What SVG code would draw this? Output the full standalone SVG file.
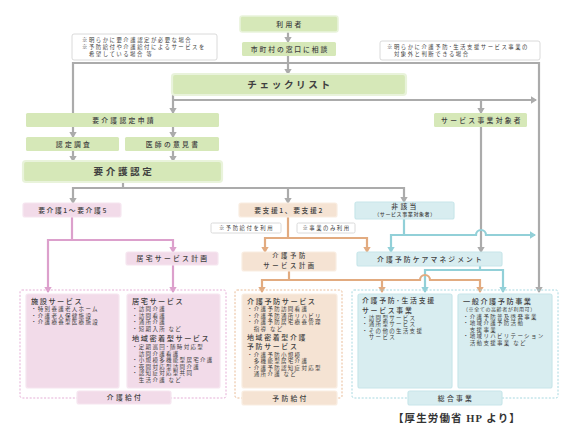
<svg xmlns="http://www.w3.org/2000/svg" width="576" height="432" viewBox="0 0 576 432">
<style>
text{font-family:"Noto Sans CJK JP","Noto Sans",sans-serif;fill:#404040}
.lbl{font-size:6.8px;letter-spacing:2.3px;text-anchor:middle;font-weight:500}
.big{font-size:9.6px;letter-spacing:2.6px;text-anchor:middle;font-weight:700}
.note{font-size:5.4px;letter-spacing:1.5px}
.ttl{font-size:7.2px;letter-spacing:1.5px;font-weight:500}
.ttl2{font-size:6.9px;letter-spacing:1.7px;font-weight:500}
.item{font-size:5.5px;letter-spacing:1.3px}
.sub{font-size:5px;letter-spacing:0.6px}
.g{fill:#d6e8b8}
.g2{fill:#d6e8b8;stroke:#e9f3db;stroke-width:1.6}
.p{fill:#f2dbe9;stroke:#f6e6f0;stroke-width:1.2}
.o{fill:#f5e3d3;stroke:#f9ede2;stroke-width:1.2}
.b{fill:#d8edf0;stroke:#c8e6ea;stroke-width:1.2}
.nb{fill:#fff;stroke:#d0d0d0;stroke-width:0.8}
.ln{fill:none;stroke-width:2.2}
.lg{stroke:#ababab}.lp{stroke:#dca0cc}.lo{stroke:#e2ab80}.lb{stroke:#92d0d8}
.dash{fill:none;stroke-width:0.9;stroke-dasharray:2 1.6}
</style>
<defs>
<marker id="ag" markerWidth="8" markerHeight="8" refX="5" refY="4" orient="auto" markerUnits="userSpaceOnUse"><path d="M0,0.3 L6,4 L0,7.7 z" fill="#ababab"/></marker>
<marker id="ap" markerWidth="8" markerHeight="8" refX="5" refY="4" orient="auto" markerUnits="userSpaceOnUse"><path d="M0,0.3 L6,4 L0,7.7 z" fill="#dca0cc"/></marker>
<marker id="ao" markerWidth="8" markerHeight="8" refX="5" refY="4" orient="auto" markerUnits="userSpaceOnUse"><path d="M0,0.3 L6,4 L0,7.7 z" fill="#e2ab80"/></marker>
<marker id="ab" markerWidth="8" markerHeight="8" refX="5" refY="4" orient="auto" markerUnits="userSpaceOnUse"><path d="M0,0.3 L6,4 L0,7.7 z" fill="#92d0d8"/></marker>
</defs>

<g id="connectors">
<path class="ln lg" d="M288,32 V42" marker-end="url(#ag)"/>
<path class="ln lg" d="M288,56 V74" marker-end="url(#ag)"/>
<path class="ln lg" d="M73,113 V63 H539 V292" marker-end="url(#ag)"/>
<path class="ln lg" d="M173,95 V113" marker-end="url(#ag)"/>
<path class="ln lg" d="M173,100 H536" marker-end="url(#ag)"/>
<path class="ln lg" d="M481,100 V113" marker-end="url(#ag)"/>
<path class="ln lg" d="M481,127 V252" marker-end="url(#ag)"/>
<path class="ln lg" d="M73,127 V137" marker-end="url(#ag)"/>
<path class="ln lg" d="M173,127 V137" marker-end="url(#ag)"/>
<path class="ln lg" d="M73,151 V161" marker-end="url(#ag)"/>
<path class="ln lg" d="M173,151 V161" marker-end="url(#ag)"/>
<path class="ln lg" d="M123,182 V188 H73 V203" marker-end="url(#ag)"/>
<path class="ln lg" d="M123,188 H288 V203" marker-end="url(#ag)"/>
<path class="ln lg" d="M288,188 H404 V202" marker-end="url(#ag)"/>
<path class="ln lp" d="M72,217 V240 H48 V292" marker-end="url(#ap)"/>
<path class="ln lp" d="M72,240 H173 V252" marker-end="url(#ap)"/>
<path class="ln lp" d="M173,265 V292" marker-end="url(#ap)"/>
<path class="ln lo" d="M288,217 V238 H265 V252" marker-end="url(#ao)"/>
<path class="ln lo" d="M288,238 H367 V252" marker-end="url(#ao)"/>
<path class="ln lb" d="M404,219 V235 H391 V252" marker-end="url(#ab)"/>
<path class="ln lb" d="M404,235 H476 a5,5 0 0 1 10,0 H535" marker-end="url(#ab)"/>
<path class="ln lb" d="M480,266 V270 H425 V292" marker-end="url(#ab)"/>
<path class="ln lb" d="M480,270 H503 V292" marker-end="url(#ab)"/>
<path class="ln lo" d="M289,271 V280 H262 V292" marker-end="url(#ao)"/>
<path class="ln lo" d="M289,280 H382 V292" marker-end="url(#ao)"/>
<path class="ln lo" d="M382,280 H420 a5,5 0 0 1 10,0 H480 V292" marker-end="url(#ao)"/>
</g>

<g id="note-left"><rect class="nb" x="72" y="34" width="145" height="26" rx="2"/>
<text class="note" x="82" y="42">※明らかに要介護認定が必要な場合</text>
<text class="note" x="82" y="49">※予防給付や介護給付によるサービスを</text>
<text class="note" x="82" y="56">　希望している場合 等</text></g>
<g id="note-right"><rect class="nb" x="380" y="41" width="160" height="19" rx="2"/>
<text class="note" x="387" y="49">※明らかに介護予防･生活支援サービス事業の</text>
<text class="note" x="387" y="55.5">　対象外と判断できる場合</text></g>

<g id="riyousha"><rect class="g2" x="240" y="16" width="98" height="16" rx="2.5"/><text class="lbl" x="290" y="26.5">利用者</text></g>
<g id="madoguchi"><rect class="g" x="242" y="42" width="94" height="14" rx="1.5"/><text class="lbl" x="290" y="51.5" style="letter-spacing:1.9px">市町村の窓口に相談</text></g>
<g id="checklist"><rect class="g2" x="172" y="74" width="234" height="21" rx="3" style="stroke-width:2.2"/><text class="big" x="290" y="88">チェックリスト</text></g>

<g id="shinsei"><rect class="g" x="26" y="113" width="193" height="14" rx="1.5"/><text class="lbl" x="124" y="122.5">要介護認定申請</text></g>
<g id="chousa"><rect class="g" x="26" y="137" width="93" height="14" rx="1.5"/><text class="lbl" x="74" y="146.5">認定調査</text></g>
<g id="ishi"><rect class="g" x="125" y="137" width="94" height="14" rx="1.5"/><text class="lbl" x="173" y="146.5">医師の意見書</text></g>
<g id="nintei"><rect class="g2" x="23" y="161" width="199" height="21" rx="3" style="stroke-width:2.2"/><text class="big" x="124" y="175">要介護認定</text></g>
<g id="jigyou-taishousha"><rect class="g" x="434" y="113" width="93" height="14" rx="1.5"/><text class="lbl" x="482" y="122.5">サービス事業対象者</text></g>

<g id="youkaigo"><rect class="p" x="23" y="203" width="98" height="14" rx="2"/><text class="lbl" x="73" y="212.5" style="letter-spacing:1.6px">要介護1～要介護5</text></g>
<g id="youshien"><rect class="o" x="239" y="203" width="98" height="14" rx="2"/><text class="lbl" x="289" y="212.5" style="letter-spacing:1.6px">要支援1、要支援2</text></g>
<g id="higaitou"><rect class="b" x="355" y="202" width="99" height="17" rx="2"/><text class="lbl" x="405" y="208.8">非該当<tspan class="sub" x="405" y="216" style="letter-spacing:0.6px">（サービス事業対象者）</tspan></text></g>
<g id="note-yobou"><rect class="nb" x="211" y="223" width="70" height="10" rx="1.5"/><text class="note" x="246.5" y="230.2" text-anchor="middle">※予防給付を利用</text></g>
<g id="note-jigyou"><rect class="nb" x="297" y="223" width="58" height="10" rx="1.5"/><text class="note" x="326.5" y="230.2" text-anchor="middle">※事業のみ利用</text></g>

<g id="kyotaku-keikaku"><rect class="p" x="126" y="252" width="92" height="13" rx="2"/><text class="lbl" x="173" y="261">居宅サービス計画</text></g>
<g id="yobou-keikaku"><rect class="o" x="242" y="252" width="94" height="19" rx="2"/><text class="lbl" x="290" y="258.4" style="font-size:6.3px;letter-spacing:2.6px">介護予防<tspan x="290" y="267.6">サービス計画</tspan></text></g>
<g id="caremanagement"><rect class="b" x="357" y="252" width="145" height="14" rx="2"/><text class="lbl" x="430.5" y="261.5" style="letter-spacing:2.1px">介護予防ケアマネジメント</text></g>

<g id="kaigo-kyufu">
<rect class="dash" x="20" y="290" width="206" height="108" rx="2" style="stroke:#e2a6d1"/>
<rect class="p" x="26" y="294" width="93" height="94" rx="2"/>
<rect class="p" x="127" y="294" width="93" height="94" rx="2"/>
<rect class="p" x="77" y="391" width="94" height="13" rx="2"/>
<text class="lbl" x="125" y="400.3">介護給付</text>
<text class="ttl" x="31" y="303.5">施設サービス</text>
<text class="item" x="31" y="311">・特別養護老人ホーム</text>
<text class="item" x="31" y="317.5">・介護老人保健施設</text>
<text class="item" x="31" y="324">・介護療養型医療施設</text>
<text class="ttl" x="132" y="303.5">居宅サービス</text>
<text class="item" x="132" y="311">・訪問介護</text>
<text class="item" x="132" y="317.5">・訪問看護</text>
<text class="item" x="132" y="324">・通所介護</text>
<text class="item" x="132" y="330.5">・短期入所 など</text>
<text class="ttl" x="132" y="341">地域密着型サービス</text>
<text class="item" x="132" y="349">・定期巡回･随時対応型</text>
<text class="item" x="132" y="355.5">　訪問介護看護</text>
<text class="item" x="132" y="362">・小規模多機能型居宅介護</text>
<text class="item" x="132" y="368.5">・夜間対応型訪問介護</text>
<text class="item" x="132" y="375">・認知症対応型共同</text>
<text class="item" x="132" y="381.5">　生活介護 など</text>
</g>

<g id="yobou-kyufu">
<rect class="dash" x="235" y="290" width="107" height="108" rx="2" style="stroke:#e6b48c"/>
<rect class="o" x="242" y="294" width="95" height="94" rx="2"/>
<rect class="o" x="242" y="391" width="95" height="14" rx="2"/>
<text class="lbl" x="290.5" y="400.8">予防給付</text>
<text class="ttl" x="247" y="303.5">介護予防サービス</text>
<text class="item" x="247" y="311">・介護予防訪問看護</text>
<text class="item" x="247" y="317.5">・介護予防通所リハビリ</text>
<text class="item" x="247" y="324">・介護予防居宅療養管理</text>
<text class="item" x="247" y="330.5">　指導 など</text>
<text class="ttl2" x="247" y="339.8">地域密着型介護</text>
<text class="ttl2" x="247" y="349.2">予防サービス</text>
<text class="item" x="247" y="356.5">・介護予防小規模</text>
<text class="item" x="247" y="363">　多機能型居宅介護</text>
<text class="item" x="247" y="369.5">・介護予防認知症対応型</text>
<text class="item" x="247" y="376">　通所介護 など</text>
</g>

<g id="sougou-jigyou">
<rect class="dash" x="352" y="290" width="206" height="108" rx="2" style="stroke:#9dd4dc"/>
<rect class="b" x="358" y="294" width="94" height="94" rx="2"/>
<rect class="b" x="458" y="294" width="94" height="94" rx="2"/>
<rect class="b" x="408" y="391" width="94" height="14" rx="2"/>
<text class="lbl" x="456" y="400.8">総合事業</text>
<text class="ttl2" x="362" y="303.2">介護予防･生活支援</text>
<text class="ttl2" x="362" y="312.6">サービス事業</text>
<text class="item" x="362" y="319.5">・訪問型サービス</text>
<text class="item" x="362" y="326">・通所型サービス</text>
<text class="item" x="362" y="332.5">・その他の生活支援</text>
<text class="item" x="362" y="339">　サービス</text>
<text class="ttl" x="463" y="303.5">一般介護予防事業</text>
<text class="sub" x="463" y="310.5">（※全ての高齢者が利用可）</text>
<text class="item" x="463" y="318.5">・介護予防普及啓発事業</text>
<text class="item" x="463" y="325">・地域介護予防活動</text>
<text class="item" x="463" y="331.5">　支援事業</text>
<text class="item" x="463" y="338">・地域リハビリテーション</text>
<text class="item" x="463" y="344.5">　活動支援事業 など</text>
</g>

<text x="393" y="421.5" style="font-family:'Liberation Serif','Noto Sans CJK JP',serif;font-size:10.5px;letter-spacing:1.1px;font-weight:700;fill:#333">【厚生労働省 HP より】</text>
</svg>
